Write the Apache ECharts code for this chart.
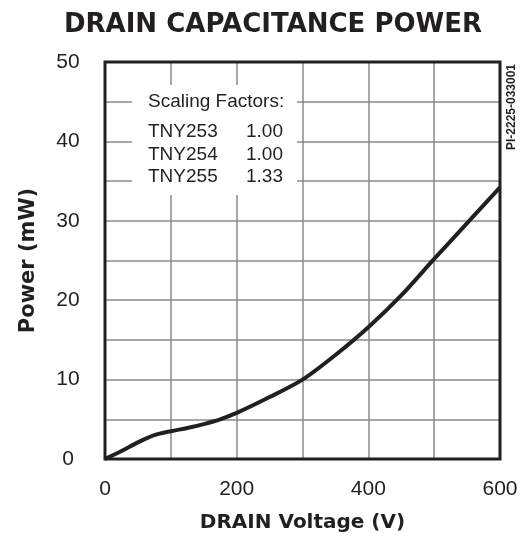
<!DOCTYPE html>
<html>
<head>
<meta charset="utf-8">
<script src="https://cdn.jsdelivr.net/npm/echarts@6/dist/echarts.min.js"></script>
<style>
html,body{margin:0;padding:0;background:#fff;}
#chart{width:523px;height:542px;}
</style>
</head>
<body>
<div id="chart"></div>
<script>
// Data
const voltage = [0, 25, 50, 75, 100, 125, 150, 175, 200, 250, 300, 350, 400, 450, 500, 550, 600];
const powerMW = [0, 1.0, 2.1, 3.0, 3.5, 3.9, 4.4, 5.0, 5.8, 7.8, 10.0, 13.1, 16.6, 20.6, 25.2, 29.7, 34.2];
const xTickLabels = [0, 200, 400, 600];
const yTickLabels = [0, 10, 20, 30, 40, 50];
const scalingHeader = 'Scaling Factors:';
const deviceNames = ['TNY253', 'TNY254', 'TNY255'];
const deviceFactors = ['1.00', '1.00', '1.33'];

const ink = '#231f20';
const sans = '"Liberation Sans", Arial, Helvetica, sans-serif';
const boldSans = '"DejaVu Sans", "Liberation Sans", sans-serif';

const chart = echarts.init(document.getElementById('chart'), null, {renderer: 'canvas'});

const boxGraphics = [
  {type: 'rect', shape: {x: 132, y: 85, width: 165, height: 110}, style: {fill: '#fff'}, z: 5},
  {type: 'text', x: 148, y: 102, style: {text: scalingHeader, font: '19px ' + sans, fill: ink, textVerticalAlign: 'middle'}, z: 6}
];
deviceNames.forEach((n, i) => {
  const y = 132 + i * 22.5;
  boxGraphics.push({type: 'text', x: 148, y: y, style: {text: n, font: '19px ' + sans, fill: ink, textVerticalAlign: 'middle'}, z: 6});
  boxGraphics.push({type: 'text', x: 283, y: y, style: {text: deviceFactors[i], font: '19px ' + sans, fill: ink, textAlign: 'right', textVerticalAlign: 'middle'}, z: 6});
});
boxGraphics.push({
  type: 'text', x: 512, y: 107, rotation: Math.PI / 2,
  style: {text: 'PI-2225-033001', font: 'bold 12px ' + sans, fill: ink, textAlign: 'center', textVerticalAlign: 'middle'}, z: 6
});

chart.setOption({
  animation: false,
  backgroundColor: '#fff',
  title: {
    text: 'DRAIN CAPACITANCE POWER',
    left: 268, top: 7, textAlign: 'center',
    textStyle: {fontFamily: boldSans, fontWeight: 'bold', fontSize: 26, color: ink}
  },
  grid: {left: 105, top: 62, right: 23, bottom: 83, show: true, borderColor: ink, borderWidth: 3, backgroundColor: 'transparent', z: 4},
  xAxis: {
    type: 'value', min: 0, max: 600, interval: 100,
    name: 'DRAIN Voltage (V)', nameLocation: 'middle', nameGap: 54,
    nameTextStyle: {fontFamily: boldSans, fontWeight: 'bold', fontSize: 20, color: ink},
    axisLine: {show: false}, axisTick: {show: false},
    axisLabel: {
      margin: 20, fontFamily: sans, fontSize: 21, color: ink,
      formatter: v => xTickLabels.includes(v) ? String(v) : ''
    },
    splitLine: {show: true, lineStyle: {color: '#8a8a8a', width: 1.5}}
  },
  yAxis: {
    type: 'value', min: 0, max: 50, interval: 5,
    name: 'Power (mW)', nameLocation: 'middle', nameGap: 66, nameRotate: 90,
    nameTextStyle: {fontFamily: boldSans, fontWeight: 'bold', fontSize: 21, color: ink},
    axisLine: {show: false}, axisTick: {show: false},
    axisLabel: {
      margin: 37, align: 'center', fontFamily: sans, fontSize: 21, color: ink,
      formatter: v => yTickLabels.includes(v) ? String(v) : ''
    },
    splitLine: {show: true, lineStyle: {color: '#8a8a8a', width: 1.5}}
  },
  series: [{
    type: 'line',
    data: voltage.map((v, i) => [v, powerMW[i]]),
    smooth: 0.3,
    showSymbol: false,
    lineStyle: {color: ink, width: 4},
    z: 3
  }],
  graphic: boxGraphics
});
</script>
</body>
</html>
